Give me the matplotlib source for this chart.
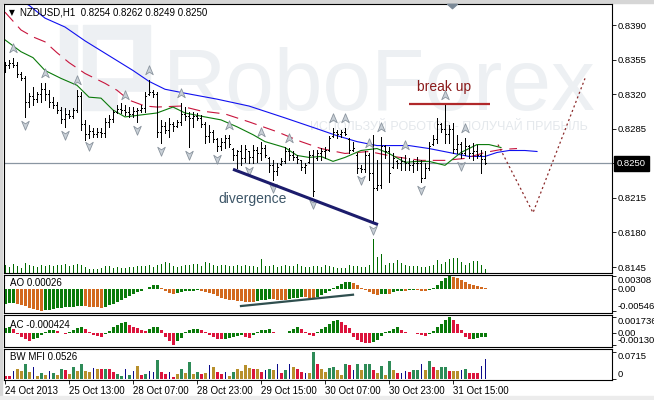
import numpy as np
import matplotlib
matplotlib.use("Agg")
import matplotlib.pyplot as plt
import matplotlib.transforms as mtransforms
from matplotlib.path import Path
from matplotlib.patches import Rectangle
from matplotlib import font_manager as fm

plt.rcParams['font.family'] = ['Liberation Sans', 'DejaVu Sans']
plt.rcParams['lines.scale_dashes'] = False

# ------------------------------------------------------------------ data
HEADER = "NZDUSD,H1  0.8254 0.8262 0.8249 0.8250"
LAST_PRICE = 0.8250

OPEN = [0.8345,0.8350,0.8352,0.8350,0.8340,0.8336,0.8312,0.8318,0.8315,0.8320,
        0.8325,0.8320,0.8312,0.8309,0.8304,0.8295,0.8300,0.8298,0.8304,0.8318,
        0.8290,0.8280,0.8283,0.8280,0.8282,0.8281,0.8292,0.8295,0.8302,0.8305,
        0.8304,0.8302,0.8300,0.8303,0.8304,0.8306,0.8320,0.8322,0.8320,0.8282,
        0.8288,0.8284,0.8290,0.8288,0.8292,0.8300,0.8298,0.8296,0.8298,0.8296,
        0.8290,0.8278,0.8282,0.8275,0.8268,0.8272,0.8276,0.8265,0.8258,0.8262,
        0.8255,0.8262,0.8256,0.8264,0.8260,0.8266,0.8255,0.8248,0.8242,0.8249,
        0.8252,0.8262,0.8258,0.8256,0.8253,0.8246,0.8251,0.8258,0.8255,0.8260,
        0.8262,0.8264,0.8278,0.8282,0.8280,0.8282,0.8275,0.8264,0.8258,0.8245,
        0.8244,0.8258,0.8240,0.8225,0.8228,0.8268,0.8262,0.8246,0.8252,0.8250,
        0.8252,0.8250,0.8248,0.8250,0.8250,0.8235,0.8245,0.8270,0.8275,0.8290,
        0.8285,0.8280,0.8285,0.8265,0.8270,0.8260,0.8268,0.8260,0.8262,0.8258,0.8254]
HIGH = [0.8353,0.8355,0.8357,0.8353,0.8342,0.8338,0.8321,0.8327,0.8322,0.8331,
        0.8331,0.8324,0.8317,0.8312,0.8307,0.8306,0.8304,0.8306,0.8324,0.8322,
        0.8294,0.8289,0.8286,0.8286,0.8286,0.8296,0.8299,0.8304,0.8309,0.8311,
        0.8309,0.8307,0.8307,0.8306,0.8309,0.8322,0.8334,0.8324,0.8322,0.8294,
        0.8292,0.8296,0.8292,0.8294,0.8311,0.8307,0.8302,0.8302,0.8301,0.8299,
        0.8292,0.8289,0.8284,0.8276,0.8276,0.8279,0.8279,0.8266,0.8264,0.8269,
        0.8269,0.8262,0.8269,0.8267,0.8272,0.8269,0.8256,0.8253,0.8250,0.8255,
        0.8267,0.8266,0.8262,0.8258,0.8253,0.8250,0.8262,0.8264,0.8264,0.8266,
        0.8267,0.8278,0.8286,0.8284,0.8284,0.8286,0.8276,0.8272,0.8260,0.8248,
        0.8262,0.8260,0.8279,0.8253,0.8277,0.8269,0.8267,0.8260,0.8253,0.8256,
        0.8258,0.8255,0.8253,0.8256,0.8253,0.8250,0.8272,0.8279,0.8296,0.8291,
        0.8309,0.8289,0.8291,0.8279,0.8272,0.8276,0.8269,0.8271,0.8269,0.8264,0.8262]
LOW = [0.8342,0.8347,0.8348,0.8337,0.8334,0.8297,0.8307,0.8309,0.8312,0.8312,
       0.8314,0.8307,0.8306,0.8301,0.8291,0.8287,0.8296,0.8296,0.8302,0.8284,
       0.8274,0.8276,0.8277,0.8277,0.8277,0.8277,0.8287,0.8292,0.8301,0.8301,
       0.8299,0.8297,0.8297,0.8292,0.8302,0.8302,0.8319,0.8317,0.8277,0.8271,
       0.8281,0.8277,0.8283,0.8287,0.8289,0.8294,0.8267,0.8287,0.8294,0.8287,
       0.8271,0.8272,0.8272,0.8262,0.8264,0.8266,0.8267,0.8253,0.8245,0.8248,
       0.8251,0.8250,0.8250,0.8251,0.8253,0.8256,0.8241,0.8233,0.8238,0.8248,
       0.8250,0.8253,0.8253,0.8250,0.8243,0.8240,0.8250,0.8217,0.8253,0.8253,
       0.8255,0.8262,0.8277,0.8276,0.8277,0.8279,0.8260,0.8262,0.8240,0.8241,
       0.8241,0.8233,0.8191,0.8223,0.8225,0.8255,0.8231,0.8245,0.8245,0.8243,
       0.8243,0.8243,0.8241,0.8243,0.8231,0.8235,0.8243,0.8269,0.8271,0.8282,
       0.8271,0.8271,0.8260,0.8260,0.8255,0.8258,0.8255,0.8253,0.8255,0.8240,0.8249]
CLOSE = [0.8350,0.8352,0.8350,0.8340,0.8336,0.8312,0.8318,0.8315,0.8320,0.8325,
         0.8320,0.8312,0.8309,0.8304,0.8295,0.8300,0.8298,0.8304,0.8318,0.8290,
         0.8280,0.8283,0.8280,0.8282,0.8281,0.8292,0.8295,0.8302,0.8305,0.8304,
         0.8302,0.8300,0.8303,0.8304,0.8306,0.8318,0.8322,0.8320,0.8282,0.8288,
         0.8284,0.8290,0.8288,0.8292,0.8300,0.8298,0.8296,0.8298,0.8296,0.8290,
         0.8278,0.8282,0.8275,0.8268,0.8272,0.8276,0.8270,0.8258,0.8262,0.8255,
         0.8265,0.8256,0.8264,0.8260,0.8266,0.8258,0.8248,0.8242,0.8246,0.8252,
         0.8262,0.8258,0.8256,0.8254,0.8246,0.8248,0.8258,0.8222,0.8260,0.8262,
         0.8264,0.8276,0.8282,0.8280,0.8282,0.8280,0.8264,0.8266,0.8245,0.8244,
         0.8258,0.8240,0.8225,0.8228,0.8268,0.8262,0.8240,0.8255,0.8250,0.8252,
         0.8250,0.8248,0.8250,0.8250,0.8235,0.8245,0.8268,0.8275,0.8290,0.8285,
         0.8280,0.8285,0.8265,0.8270,0.8260,0.8268,0.8260,0.8262,0.8258,0.8254,0.8250]
VOLUME = [700,500,800,600,400,900,700,600,500,700,
          600,700,600,700,700,800,600,700,800,700,
          500,300,300,300,400,600,600,400,500,400,
          400,500,500,600,600,600,700,500,700,800,
          1000,900,600,500,600,700,700,800,800,600,
          1000,900,700,600,700,700,600,600,700,600,
          700,600,600,500,1300,600,600,700,500,600,
          700,600,600,800,600,500,500,600,600,500,
          700,600,500,400,400,400,700,600,600,500,
          500,700,3300,1500,1800,700,900,900,1200,900,
          700,600,600,600,500,500,600,700,1200,800,
          1000,1300,1400,1400,1000,700,900,1100,1100,700,300]

# Alligator lines (bar index, value)
JAW_BAR = [0, 6, 10, 15, 20, 26, 32, 36, 40, 45, 53, 61, 70, 78, 83, 88, 93, 97, 101,
           106, 111, 116, 120, 123, 126, 130, 133]
JAW = [0.8423, 0.8410, 0.8397, 0.8388, 0.8374, 0.8359, 0.8344, 0.8333, 0.8325, 0.8321,
       0.8315, 0.8308, 0.8296, 0.8285, 0.8278, 0.8272, 0.8268, 0.8268, 0.8268, 0.8265,
       0.8261, 0.8257, 0.8257, 0.8261, 0.8263, 0.8263, 0.8262]
TEETH_BAR = [0, 4, 7, 10, 13, 16, 20, 25, 28, 31, 35, 38, 44, 49, 55, 61, 68, 74, 79, 85,
             91, 97, 104, 110, 115, 120, 124, 128]
TEETH = [0.8403, 0.8385, 0.8378, 0.8373, 0.8362, 0.8352, 0.8341, 0.8331, 0.8324, 0.8314,
         0.8308, 0.8307, 0.8308, 0.8303, 0.8300, 0.8292, 0.8282, 0.8272, 0.8265, 0.8260,
         0.8262, 0.8257, 0.8253, 0.8253, 0.8255, 0.8261, 0.8264, 0.8265]
LIPS_BAR = [0, 4, 7, 10, 14, 18, 21, 24, 27, 30, 34, 38, 42, 45, 50, 54, 58, 62, 65, 70,
            73, 76, 79, 82, 85, 89, 93, 96, 100, 103, 106, 110, 114, 118, 121, 124]
LIPS = [0.8375, 0.8363, 0.8357, 0.8344, 0.8336, 0.8329, 0.8317, 0.8316, 0.8304, 0.8297,
        0.8299, 0.8301, 0.8307, 0.8301, 0.8297, 0.8294, 0.8287, 0.8279, 0.8272, 0.8266,
        0.8258, 0.8256, 0.8257, 0.8252, 0.8256, 0.8263, 0.8265, 0.8260, 0.8251, 0.8252,
        0.8252, 0.8248, 0.8261, 0.8269, 0.8269, 0.8266]

FRACTAL_UP = [2, 10, 18, 30, 36, 44, 56, 64, 71, 82, 85, 91, 94, 100, 110, 115]
FRACTAL_DOWN = [5, 15, 21, 33, 39, 46, 53, 61, 67, 77, 89, 92, 104, 114]

AO = [-0.0037,-0.0036,-0.0035,-0.0037,-0.0040,-0.0043,-0.0047,-0.0050,-0.0053,-0.00546,
      -0.0053,-0.0051,-0.0049,-0.0048,-0.0047,-0.0046,-0.0045,-0.0044,-0.0043,-0.0042,
      -0.0043,-0.0044,-0.0045,-0.0046,-0.0047,-0.0044,-0.0041,-0.0037,-0.0032,-0.0027,
      -0.0022,-0.0017,-0.0012,-0.0008,-0.0005,-0.0002,0.0005,0.0009,0.0010,0.0002,
      -0.0005,-0.0010,-0.0013,-0.0011,-0.0009,-0.0007,-0.0006,-0.0005,-0.0004,-0.0005,
      -0.0008,-0.0011,-0.0014,-0.0018,-0.0022,-0.0025,-0.0027,-0.0029,-0.0030,-0.0031,
      -0.00315,-0.0032,-0.0033,-0.0031,-0.0029,-0.0027,-0.0025,-0.0026,-0.0027,-0.00275,
      -0.0028,-0.0026,-0.0024,-0.0022,-0.0020,-0.0021,-0.0022,-0.00225,-0.0021,-0.0016,
      -0.0011,-0.0006,0.00005,0.0006,0.0012,0.0016,0.0017,0.0014,0.0008,0.0002,
      -0.0003,-0.0008,-0.0013,-0.0016,-0.0014,-0.0012,-0.0013,-0.0009,-0.0007,-0.0005,
      -0.0006,-0.0004,-0.0003,-0.0004,-0.0005,-0.0006,-0.0004,0.0002,0.0010,0.0019,
      0.0027,0.00308,0.0029,0.0026,0.0020,0.0015,0.0012,0.0010,0.0007,0.0004,0.00026]
AC = [0.0005,0.0007,0.0004,-0.0001,-0.0004,-0.0007,-0.0009,-0.0007,-0.0005,-0.0002,
      0.0001,0.0003,0.00035,0.0002,0.00005,-0.0001,0.0001,0.0003,0.0005,0.0006,
      0.0004,0.0001,-0.0002,-0.0003,-0.0004,-0.0001,0.0002,0.0006,0.0009,0.0011,
      0.00115,0.0009,0.0007,0.0005,0.0003,0.0002,0.0004,0.0006,0.0007,0.0003,
      -0.0004,-0.0009,-0.0013,-0.0009,-0.0005,0.0001,0.0003,0.0004,0.00045,0.0003,
      0.0001,-0.0002,-0.0004,-0.0006,-0.0007,-0.0006,-0.0005,-0.0004,-0.0003,-0.0002,
      -0.0004,-0.0005,-0.0002,0.0001,0.0003,0.00035,0.00038,0.0001,0.00005,-0.00005,
      0.00005,0.0002,0.0004,0.0006,0.0004,0.0001,-0.0002,-0.0003,0.0001,0.0004,
      0.0007,0.0010,0.0013,0.0014,0.0012,0.0009,0.0005,-0.0004,-0.0008,-0.0010,
      -0.00105,-0.0011,-0.0010,-0.0008,-0.0003,0.0001,0.0002,0.0004,0.0006,0.0003,
      0.0001,0.00005,0.00003,-0.0001,-0.0002,-0.0003,-0.0001,0.0002,0.0006,0.0010,
      0.0014,0.001736,0.0014,0.0010,0.0003,-0.0004,-0.0007,-0.00065,-0.0005,-0.00045,-0.000424]
MFI = [0.0094,0.0094,0.0222,0.0265,0.0222,0.0410,0.0197,0.0325,0.0094,0.0154,
       0.0111,0.0222,0.0154,0.0111,0.0265,0.0239,0.0137,0.0308,0.0222,0.0410,
       0.0222,0.0205,0.0291,0.0282,0.0265,0.0265,0.0265,0.0180,0.0137,0.0094,
       0.0265,0.0111,0.0222,0.0351,0.0111,0.0137,0.0222,0.0205,0.0496,0.0197,
       0.0137,0.0205,0.0068,0.0137,0.0282,0.0171,0.0462,0.0137,0.0197,0.0137,
       0.0154,0.0376,0.0308,0.0205,0.0137,0.0197,0.0094,0.0180,0.0265,0.0222,
       0.0368,0.0299,0.0282,0.0282,0.0180,0.0256,0.0282,0.0256,0.0385,0.0154,
       0.0256,0.0410,0.0308,0.0282,0.0197,0.0171,0.0154,0.0715,0.0410,0.0265,
       0.0197,0.0299,0.0325,0.0256,0.0128,0.0410,0.0368,0.0256,0.0393,0.0256,
       0.0393,0.0393,0.0256,0.0154,0.0359,0.0128,0.0479,0.0256,0.0154,0.0154,
       0.0222,0.0197,0.0239,0.0239,0.0385,0.0256,0.0479,0.0308,0.0256,0.0308,
       0.0325,0.0222,0.0214,0.0214,0.0239,0.0282,0.0154,0.0154,0.0154,0.0342,0.0526]
# g = green, f = fade (brown), s = squat (red), b = fake (blue)
MFI_TYPE = (list("ssbffgfbfg") + list("fbgfgsfgfg") + list("ffbfsgssgg") +
            list("bgbfsgbbgs") + list("sbsfgfgfgs") + list("fbfssbfgff") +
            list("ffsfsbgfbs") + list("gbfssbfgsf") + list("fggffgsbgf") +
            list("ggsfgfgfsb") + list("bsggbfgsfg") + list("gsffbgsssbb"))

XTICK_BARS = [0, 16, 32, 48, 64, 80, 96, 112]
XTICK_LABELS = ["24 Oct 2013", "25 Oct 13:00", "28 Oct 07:00", "28 Oct 23:00",
                "29 Oct 15:00", "30 Oct 07:00", "30 Oct 23:00", "31 Oct 15:00"]
PRICE_TICKS = [0.8390, 0.8355, 0.8320, 0.8285, 0.8250, 0.8215, 0.8180, 0.8145]

DIV_PRICE_BARS = [57, 93.25]
DIV_PRICE = [0.8244, 0.8188]
DIV_AO_BARS = [59, 87]
DIV_AO = [-0.00425, -0.00149]
BREAK_BARS = [101, 121.25]
BREAK_LEVEL = 0.8310
FORECAST_BARS = [123.25, 132, 145]
FORECAST = [0.8269, 0.8200, 0.8336]

# ------------------------------------------------------------------ figure
W, H = 654, 400
fig = plt.figure(figsize=(W / 100, H / 100), dpi=100, facecolor='white')
pix = mtransforms.Affine2D().scale(1 / W, -1 / H).translate(0, 1) + fig.transFigure


def pxbox(x0, y0, x1, y1):
    return [x0 / W, 1 - y1 / H, (x1 - x0) / W, (y1 - y0) / H]


fig.patches.append(Rectangle((0, 0), W, 3, transform=pix, color='#d6d6d6', zorder=-5))
fig.patches.append(Rectangle((0, 0), 2, H, transform=pix, color='#d6d6d6', zorder=-5))
fig.patches.append(Rectangle((0, 396), W, 4, transform=pix, color='#ececec', zorder=-5))

ax = fig.add_axes(pxbox(4, 4, 612, 273))
ax_ao = fig.add_axes(pxbox(4, 275, 612, 313))
ax_ac = fig.add_axes(pxbox(4, 315, 612, 347))
ax_mfi = fig.add_axes(pxbox(4, 349, 612, 380))

n = len(CLOSE)
x = np.arange(n)
for a in (ax, ax_ao, ax_ac, ax_mfi):
    a.set_xlim(-0.25, 151.75)
    for s in a.spines.values():
        s.set_linewidth(0.8)
        s.set_color('black')
    a.tick_params(axis='x', bottom=False, labelbottom=False)
    a.yaxis.tick_right()
    a.tick_params(axis='y', direction='out', length=3, width=0.6, pad=1.2,
                  labelsize=6.8, colors='black')

# ---- watermark
names = {f.name for f in fm.fontManager.ttflist}
if 'Liberation Sans Narrow' in names:
    wm_family, wm_size = 'Liberation Sans Narrow', 77
else:
    wm_family, wm_size = 'Liberation Sans', 63
WM = '#edf0f3'
ax.text(163, 110, 'RoboForex', transform=pix, fontsize=wm_size, family=wm_family,
        color=WM, ha='left', va='baseline', zorder=0)
ax.text(310, 127, 'ИСПОЛЬЗУЙ РОБОТОВ - ПОЛУЧАЙ ПРИБЫЛЬ', transform=pix, fontsize=9,
        color='#e4e8ec', ha='left', va='center', zorder=0)
for (rx, ry, rw, rh, c) in [(60, 25, 17, 85, WM), (83, 25, 67, 85, WM),
                            (97, 40, 35, 37, 'white'), (118, 92, 32, 18, 'white')]:
    ax.add_patch(Rectangle((rx, ry), rw, rh, transform=pix, color=c, zorder=0.1,
                           clip_on=False))

# ---- main chart
ax.set_ylim(0.81390, 0.84113)
ax.set_yticks(PRICE_TICKS)
ax.set_yticklabels(['' if abs(t - LAST_PRICE) < 1e-9 else f'{t:.4f}' for t in PRICE_TICKS])

vol_tr = mtransforms.blended_transform_factory(
    ax.transData, mtransforms.Affine2D().scale(1, 0.01 / 269).translate(0, 1 / 269) + ax.transAxes)
ax.vlines(x, 0, VOLUME, transform=vol_tr, color='#006a00', lw=0.72, zorder=1,
          antialiased=False)

ax.axhline(LAST_PRICE, color='#8a96a2', lw=0.9, zorder=1.5)

ax.plot(JAW_BAR, JAW, color='#1010f0', lw=0.8, zorder=2)
ax.plot(TEETH_BAR, TEETH, color='#c8143c', lw=0.8, zorder=2, dashes=(9, 5))
ax.plot(LIPS_BAR, LIPS, color='#0a7a0a', lw=0.8, zorder=2)

ax.vlines(x, LOW, HIGH, color='black', lw=0.72, zorder=3, antialiased=False)
ax.hlines(OPEN, x - 0.25, x, color='black', lw=0.72, zorder=3, antialiased=False)
ax.hlines(CLOSE, x, x + 0.25, color='black', lw=0.72, zorder=3, antialiased=False)

up_path = Path([(0, 1), (0.8, -0.9), (0, -0.35), (-0.8, -0.9), (0, 1)],
               [Path.MOVETO, Path.LINETO, Path.LINETO, Path.LINETO, Path.CLOSEPOLY])
down_path = Path([(0, -1), (0.8, 0.9), (0, 0.35), (-0.8, 0.9), (0, -1)],
                 [Path.MOVETO, Path.LINETO, Path.LINETO, Path.LINETO, Path.CLOSEPOLY])
up_tr = ax.transData + mtransforms.ScaledTranslation(0, 10 / 100, fig.dpi_scale_trans)
dn_tr = ax.transData + mtransforms.ScaledTranslation(0, -8 / 100, fig.dpi_scale_trans)
ax.plot(FRACTAL_UP, [HIGH[i] for i in FRACTAL_UP], ls='none', marker=up_path, ms=6.8,
        mfc='#c9d0d7', mec='#8a949e', mew=0.6, transform=up_tr, zorder=4)
ax.plot(FRACTAL_DOWN, [LOW[i] for i in FRACTAL_DOWN], ls='none', marker=down_path, ms=6.8,
        mfc='#c9d0d7', mec='#8a949e', mew=0.6, transform=dn_tr, zorder=4)

ax.plot(DIV_PRICE_BARS, DIV_PRICE, color='#1c1c6c', lw=2.2, zorder=5, solid_capstyle='butt')
ax.text(61.9, 0.8214, 'divergence', ha='center', va='center', fontsize=10,
        color='#3d5668', zorder=5)
ax.plot(BREAK_BARS, [BREAK_LEVEL] * 2, color='#b0282a', lw=1.6, zorder=5, solid_capstyle='butt')
ax.text(109.75, 0.8327, 'break up', ha='center', va='center', fontsize=10,
        color='#8b1a1a', zorder=5)
ax.plot(FORECAST_BARS, FORECAST, color='#8b2a2a', lw=0.9, ls=(0, (1.5, 2.0)), zorder=5)

top_tr = mtransforms.blended_transform_factory(ax.transData, ax.transAxes)
flat_tri = Path([(-1, 0.45), (1, 0.45), (0, -0.45), (-1, 0.45)],
                [Path.MOVETO, Path.LINETO, Path.LINETO, Path.CLOSEPOLY])
ax.plot([111.75], [1 - 2 / 269], marker=flat_tri, ms=7, color='#7b8997', transform=top_tr,
        clip_on=False, zorder=6)

ax.annotate(f'{LAST_PRICE:.4f}', xy=(1, LAST_PRICE),
            xycoords=mtransforms.blended_transform_factory(ax.transAxes, ax.transData),
            xytext=(3.4, 0), textcoords='offset points', ha='left', va='center',
            fontsize=6.8, color='white', annotation_clip=False,
            bbox=dict(boxstyle='square,pad=0.3', fc='black', ec='black'))

# ---- AO
ao = np.array(AO)
ao_col = ['#0a7a0a' if i == 0 or ao[i] > ao[i - 1] else '#d2691e' for i in range(n)]
ax_ao.bar(x, ao, width=0.75, color=ao_col, linewidth=0, antialiased=False)
ax_ao.plot(DIV_AO_BARS, DIV_AO, color='#2f4f4f', lw=1.6, zorder=5)
ax_ao.set_ylim(-0.00595, 0.00332)
ax_ao.set_yticks([0.00308, 0.0, -0.00546])
ax_ao.set_yticklabels(['0.00308', '0.00', '-0.00546'])
lbl = ax_ao.get_yticklabels()
lbl[0].set_va('top'); lbl[2].set_va('bottom')

# ---- AC
ac = np.array(AC)
ac_col = ['#0a7a0a' if i == 0 or ac[i] > ac[i - 1] else '#dc143c' for i in range(n)]
ax_ac.bar(x, ac, width=0.75, color=ac_col, linewidth=0, antialiased=False)
ax_ac.set_ylim(-0.00152, 0.00195)
ax_ac.set_yticks([0.001736, 0.0, -0.00130])
ax_ac.set_yticklabels(['0.001736', '0.00', '-0.00130'])
lbl = ax_ac.get_yticklabels()
lbl[0].set_va('top'); lbl[2].set_va('bottom')

# ---- BW MFI
MFI_COLORS = {'g': '#2e8b57', 'f': '#b8902c', 's': '#dc143c', 'b': '#0a0a8a'}
mfi_col = [MFI_COLORS[t] for t in MFI_TYPE]
mfi_w = [0.25 if t == 'b' else 0.75 for t in MFI_TYPE]
ax_mfi.bar(x, MFI, width=mfi_w, color=mfi_col, linewidth=0, antialiased=False)
ax_mfi.set_ylim(-0.0013, 0.0783)
ax_mfi.set_yticks([0.0715, 0.0])
ax_mfi.set_yticklabels(['0.0715', '0'])
lbl = ax_mfi.get_yticklabels()
lbl[0].set_va('top'); lbl[1].set_va('bottom')

ax_mfi.set_xticks(XTICK_BARS)
ax_mfi.set_xticklabels(XTICK_LABELS)
ax_mfi.tick_params(axis='x', bottom=True, labelbottom=True, direction='out', length=3,
                   width=0.6, pad=1, labelsize=7)
for t in ax_mfi.get_xticklabels():
    t.set_ha('left')

# ---- texts
fig.text(9 / W, 1 - 12.5 / H, '▼', fontsize=5.5, family='DejaVu Sans', va='center')
fig.text(20 / W, 1 - 12.5 / H, HEADER, fontsize=7, va='center')
fig.text(10 / W, 1 - 283 / H, 'AO 0.00026', fontsize=7, va='center')
fig.text(10 / W, 1 - 324.5 / H, 'AC -0.000424', fontsize=7, va='center')
fig.text(10 / W, 1 - 357.5 / H, 'BW MFI 0.0526', fontsize=7, va='center')

fig.savefig('out.png', dpi=100, facecolor='white')
